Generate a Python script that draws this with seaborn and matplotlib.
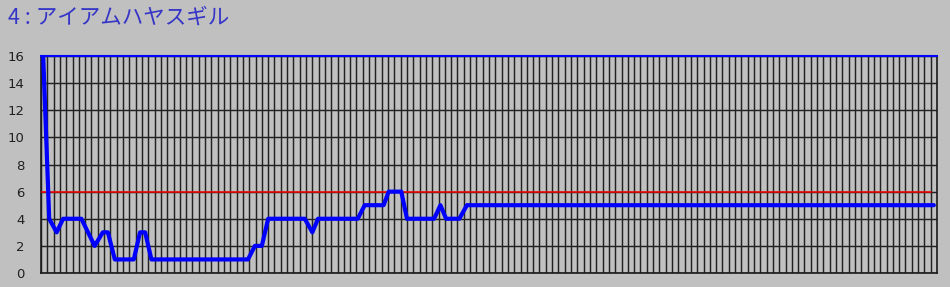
import matplotlib
matplotlib.use("Agg")
import matplotlib.pyplot as plt
import seaborn as sns
import numpy as np
import pandas as pd

title = "4 : アイアムハヤスギル"
# positions along the race (grid units) and values
x_pos = [0.35, 1.3, 2.48, 3.5, 6.4, 8.5, 9.8, 10.6, 11.7, 14.7, 15.7, 16.5, 17.5,
         32.8, 33.9, 35.0, 36.0, 41.8, 43.0, 43.9, 50.2, 51.3, 54.3, 55.1, 57.1,
         58.0, 62.3, 63.3, 64.2, 66.3, 67.5, 141.5]
y_val = [16, 4, 3, 4, 4, 2, 3, 3, 1, 1, 3, 3, 1,
         1, 2, 2, 4, 4, 3, 4, 4, 5, 5, 6, 6,
         4, 4, 5, 4, 4, 5, 5]
ref_level = 6
y_ticks = [0, 2, 4, 6, 8, 10, 12, 14, 16]
n_cols = 142

sns.set_style("white")
plt.rcParams['font.family'] = ['DejaVu Sans']

bg = "#c0c0c0"
fig = plt.figure(figsize=(9.5, 2.87), dpi=100, facecolor=bg)
ax = fig.add_axes([41/950, 14/287, (937-41)/950, (273-56)/287])
ax.set_facecolor(bg)

ax.set_xlim(0, n_cols)
ax.set_ylim(0, 16)
ax.set_xticks(np.arange(0, n_cols))
ax.set_yticks(y_ticks)
ax.set_xticklabels([])
ax.set_yticklabels([str(t) for t in y_ticks], fontsize=9.5, color="#202020")
ax.tick_params(axis='x', length=0)
ax.tick_params(axis='y', length=6, width=1.1, color="#202020", pad=6)
ax.grid(True, axis='both', color="#222222", linewidth=1.05)
ax.set_axisbelow(True)

for s in ['left', 'bottom', 'right']:
    ax.spines[s].set_color("#1a1a1a")
    ax.spines[s].set_linewidth(1.2)
ax.spines['top'].set_color("#0000ff")
ax.spines['top'].set_linewidth(1.5)

ax.axhline(ref_level, xmin=0, xmax=141/n_cols, color="#ff0000", linewidth=1.1, zorder=3)

df = pd.DataFrame({"x": x_pos, "y": y_val})
sns.lineplot(data=df, x="x", y="y", ax=ax, color="#0000ff", linewidth=3.0,
             sort=False, zorder=4, clip_on=True)
ax.set_xlabel("")
ax.set_ylabel("")

fig.text(8/950, 1 - 18/287, title, color="#3535c8", fontsize=15.5,
         family=['Noto Sans CJK JP', 'DejaVu Sans'], va='center', ha='left')

fig.savefig("out.png", dpi=100, facecolor=bg)
